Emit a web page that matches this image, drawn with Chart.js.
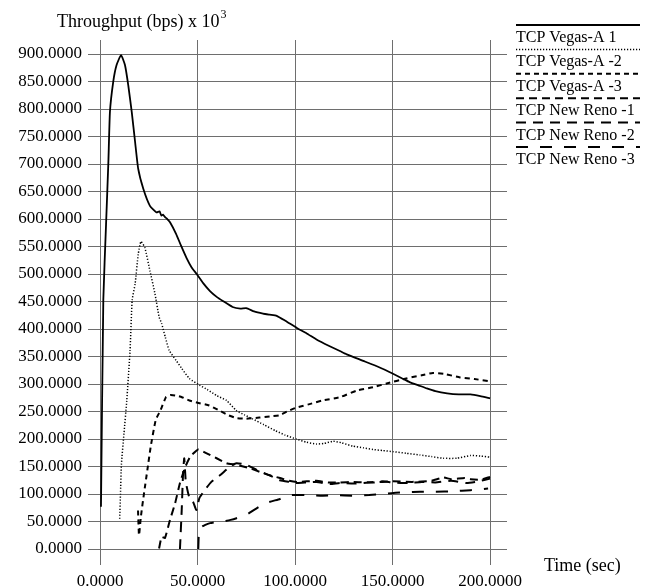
<!DOCTYPE html>
<html>
<head>
<meta charset="utf-8">
<title>Throughput</title>
<script src="https://cdn.jsdelivr.net/npm/chart.js@4/dist/chart.umd.min.js"></script>
<style>
  html, body { margin: 0; padding: 0; background: #fff; }
  canvas { display: block; }
</style>
</head>
<body>
<canvas id="chart" width="657" height="588"></canvas>
<script>
// throughput traces, time in seconds, throughput in kbps
const vegas1Time = [0.5, 1.7, 3.1, 4.3, 5.1, 6.8, 8.5, 10.8, 12.8, 14.5, 16.3, 18, 19.6, 22.2, 25.6, 29,
  30.5, 31.5, 32.3, 33.5, 34.5, 35.9, 39, 41.5, 44.4, 47, 49.6, 53, 56.4, 60, 63, 68,
  72, 75, 79, 83.6, 87, 90.6, 95, 100.9, 106, 111, 117, 123, 126.5, 135, 143.4, 150,
  155, 159, 163, 167.6, 172, 178, 184, 190, 195, 200];
const vegas1 = [77, 453, 590, 704, 795, 850, 880, 898, 880, 843, 794, 740, 691, 655, 624, 612,
  614, 606, 608, 603, 600, 594, 573, 552, 529, 512, 500, 483, 469, 458, 451, 440,
  437, 438, 432, 428, 426, 424, 415, 402, 392, 381, 370, 360, 354, 342, 330, 319,
  310, 303, 298, 292, 287, 283, 281, 281, 278, 274];

const vegas2Time = [10.1, 10.5, 11, 12.3, 13.7, 15.4, 16.5, 18, 19.6, 21, 23, 25.6, 28.2, 30.3, 31.6, 33.5,
  35.5, 39, 42, 45.8, 51, 55, 59.8, 64.9, 69.8, 74, 78, 84, 90, 95, 100.6, 106,
  111, 115, 119.6, 124, 129.6, 135, 140, 145, 150.4, 157, 164, 170, 176, 183, 190, 195, 200];
const vegas2 = [55, 100, 155, 210, 269, 360, 453, 482, 536, 559, 548, 506, 464, 422, 410, 385,
  361, 343, 328, 310, 298, 290, 279, 270, 252, 244, 237, 226, 215, 207, 200, 194,
  191, 192, 196, 193, 187, 184, 181, 179, 177, 174, 171, 168, 165, 165, 170, 169, 167];

const vegas3Time = [19.5, 20, 21, 22.6, 24.3, 26, 28.6, 31, 33.8, 36, 39, 42, 45.8, 50, 56, 61,
  66, 70, 75, 81.7, 87, 92, 96, 100.6, 107, 114, 123, 131.6, 140, 147, 157, 165,
  170.7, 177, 184.6, 192, 200];
const vegas3 = [70, 25, 60, 102, 144, 186, 235, 252, 276, 280, 279, 276, 270, 266, 261, 252,
  243, 238, 237, 239, 241, 243, 250, 257, 263, 270, 276, 288, 294, 301, 310, 316,
  320, 318, 312, 309, 305];

const reno1Time = [30.3, 31.6, 33.3, 35.9, 38.5, 41, 43.7, 46.3, 50.4, 54.7, 59.8, 64.9, 70, 76.8, 83.6, 87,
  92.3, 97, 101, 106, 111, 117, 123, 130, 140, 150, 160, 170, 176, 180, 187, 190, 195, 200];
const reno1 = [1, 22, 20, 53, 83, 120, 149, 168, 181, 174, 165, 156, 153, 147, 138, 134,
  129, 124, 122, 123, 124, 121, 121, 122, 121, 123, 122, 124, 130, 127, 129, 127, 126, 131];

const reno2Time = [41, 41.9, 42.6, 43.2, 44, 45.7, 47.7, 49.4, 51, 53.7, 57.1, 61.5, 66.7, 70, 75, 80.3,
  87, 92.3, 97, 101, 106, 111, 118, 123, 130, 138, 145, 150, 158, 165, 172, 180, 188, 194, 200];
const reno2 = [0, 71, 138, 165, 122, 95, 86, 71, 93, 107, 122, 134, 150, 156, 153, 144,
  134, 125, 122, 120, 121, 122, 118, 120, 119, 121, 123, 121, 120, 122, 121, 124, 120, 123, 128];

const reno3Time = [50.4, 50.8, 52, 54, 56.4, 60, 63, 67, 70, 75, 80.3, 85.5, 92.3, 97.4, 105, 113,
  121, 130, 138, 145, 150.4, 157, 164, 172, 181, 190, 199];
const reno3 = [0, 34, 40, 44, 47, 49, 50, 53, 56, 62, 74, 84, 91, 98, 98, 97,
  98, 97, 98, 100, 102, 103, 104, 104, 105, 107, 110];

const seriesNames = ['TCP Vegas-A 1', 'TCP Vegas-A -2', 'TCP Vegas-A -3',
  'TCP New Reno -1', 'TCP New Reno -2', 'TCP New Reno -3'];

const xTicks = [0, 50, 100, 150, 200];
const yTicks = [0, 50, 100, 150, 200, 250, 300, 350, 400, 450, 500, 550, 600, 650, 700, 750, 800, 850, 900];

const SERIF = '"Liberation Serif", "Times New Roman", serif';
const GRID = '#6e6e6e';

function points(ts, vs) {
  return ts.map((t, i) => ({ x: t, y: vs[i] }));
}

const lineStyles = [
  { dash: [], width: 1.8 },
  { dash: [1.2, 1.8], width: 1.5 },
  { dash: [5, 4], width: 2 },
  { dash: [8, 5], width: 2 },
  { dash: [10, 7], width: 2 },
  { dash: [12, 12], width: 2 }
];

const traces = [
  points(vegas1Time, vegas1),
  points(vegas2Time, vegas2),
  points(vegas3Time, vegas3),
  points(reno1Time, reno1),
  points(reno2Time, reno2),
  points(reno3Time, reno3)
];

const datasets = traces.map((data, i) => ({
  label: seriesNames[i],
  data: data,
  borderColor: '#000',
  borderWidth: lineStyles[i].width,
  borderDash: lineStyles[i].dash,
  pointRadius: 0,
  fill: false,
  tension: 0.15
}));

// axis captions and the line-over-label legend on the right
const decorations = {
  id: 'decorations',
  afterDraw(chart) {
    const ctx = chart.ctx;
    ctx.save();
    ctx.fillStyle = '#000';
    ctx.textAlign = 'left';
    ctx.textBaseline = 'alphabetic';

    ctx.font = '18px ' + SERIF;
    const main = 'Throughput (bps) x 10';
    ctx.fillText(main, 57, 27);
    const w = ctx.measureText(main).width;
    ctx.font = '12px ' + SERIF;
    ctx.fillText('3', 57 + w + 1, 18);

    ctx.font = '18px ' + SERIF;
    ctx.fillText('Time (sec)', 544, 571);

    ctx.font = '16px ' + SERIF;
    chart.data.datasets.forEach((ds, i) => {
      const y = 25 + i * 24.4;
      ctx.beginPath();
      ctx.setLineDash(ds.borderDash);
      ctx.lineWidth = ds.borderWidth;
      ctx.strokeStyle = ds.borderColor;
      ctx.moveTo(516, y);
      ctx.lineTo(640, y);
      ctx.stroke();
      ctx.fillText(ds.label, 516, y + 17);
    });
    ctx.restore();
  }
};

new Chart(document.getElementById('chart').getContext('2d'), {
  type: 'line',
  data: { datasets },
  plugins: [decorations],
  options: {
    responsive: false,
    animation: false,
    events: [],
    layout: { padding: { top: 40, right: 150, left: 0, bottom: 0 } },
    plugins: {
      legend: { display: false },
      tooltip: { enabled: false }
    },
    scales: {
      x: {
        type: 'linear',
        min: 0,
        max: 208.7,
        afterBuildTicks: scale => { scale.ticks = xTicks.map(v => ({ value: v })); },
        afterFit: scale => { scale.height = 39; },
        border: { display: false },
        grid: { color: GRID, lineWidth: 1, tickLength: 16 },
        ticks: {
          color: '#000',
          padding: 6,
          maxRotation: 0,
          font: { family: SERIF, size: 17 },
          callback: v => Number(v).toFixed(4)
        }
      },
      y: {
        type: 'linear',
        min: 0,
        max: 925.5,
        afterBuildTicks: scale => { scale.ticks = yTicks.map(v => ({ value: v })); },
        afterFit: scale => { scale.width = 100; },
        border: { display: false },
        grid: { color: GRID, lineWidth: 1, tickLength: 12 },
        ticks: {
          color: '#000',
          padding: 6,
          font: { family: SERIF, size: 17 },
          callback: v => Number(v).toFixed(4)
        }
      }
    }
  }
});
</script>
</body>
</html>
